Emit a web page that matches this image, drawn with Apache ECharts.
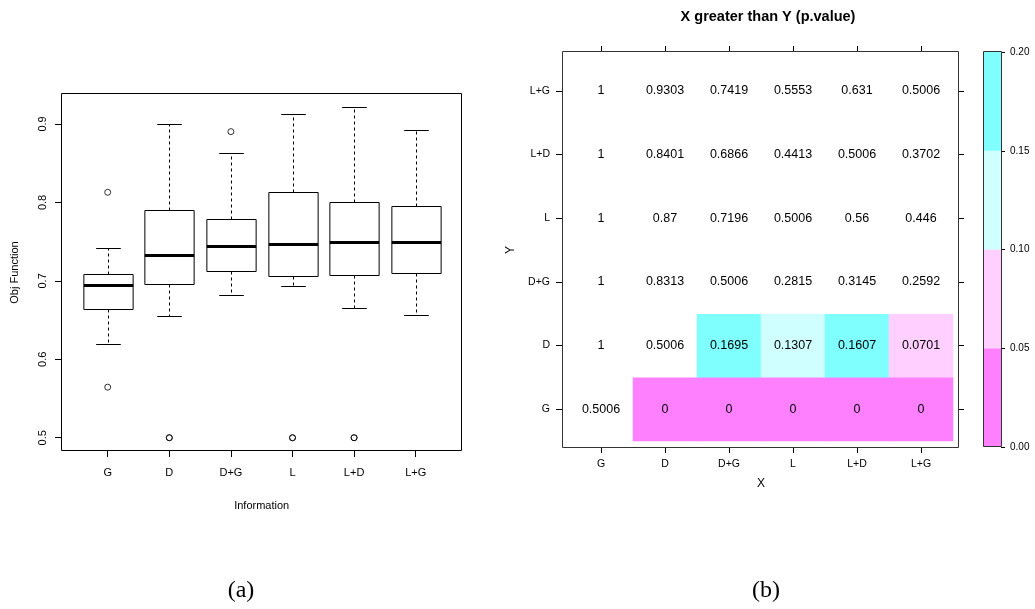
<!DOCTYPE html>
<html><head><meta charset="utf-8">
<script src="https://cdn.jsdelivr.net/npm/echarts@6/dist/echarts.min.js"></script>
<style>html,body{margin:0;padding:0;background:#fff}#c{width:1035px;height:609px}</style>
</head><body><div id="c"></div>
<script>
// ---- (a) boxplot data ----
const categories = ['G', 'D', 'D+G', 'L', 'L+D', 'L+G'];
const whiskerLow  = [0.620, 0.655, 0.6815, 0.693, 0.6657, 0.656];
const quartile1   = [0.6636, 0.6959, 0.7129, 0.7061, 0.707, 0.710];
const medians     = [0.6947, 0.7333, 0.7448, 0.7465, 0.7499, 0.7499];
const quartile3   = [0.709, 0.7907, 0.7784, 0.8129, 0.8009, 0.795];
const whiskerHigh = [0.742, 0.9004, 0.8634, 0.9124, 0.9213, 0.8928];
const outlierCategory = [0, 0, 1, 1, 2, 3, 3, 4, 4];
const outlierValue    = [0.8129, 0.5645, 0.5, 0.5, 0.8902, 0.5, 0.5, 0.5, 0.5];
const yTicksA = [0.5, 0.6, 0.7, 0.8, 0.9];

// ---- (b) heatmap data (rows = Y from bottom G to top L+G, columns = X) ----
const pRowG  = [0.5006, 0, 0, 0, 0, 0];
const pRowD  = [1, 0.5006, 0.1695, 0.1307, 0.1607, 0.0701];
const pRowDG = [1, 0.8313, 0.5006, 0.2815, 0.3145, 0.2592];
const pRowL  = [1, 0.87, 0.7196, 0.5006, 0.56, 0.446];
const pRowLD = [1, 0.8401, 0.6866, 0.4413, 0.5006, 0.3702];
const pRowLG = [1, 0.9303, 0.7419, 0.5553, 0.631, 0.5006];
const legendBreaks = [0, 0.05, 0.10, 0.15, 0.20];
const legendColors = ['#FF80FF', '#FFD0FF', '#D0FFFF', '#80FFFF'];

const FONT = 'Liberation Sans';
const rows = [pRowG, pRowD, pRowDG, pRowL, pRowLD, pRowLG];
const heatData = [];
rows.forEach((row, yi) => row.forEach((v, xi) => heatData.push([xi, yi, v])));
const boxData = categories.map((c, i) => [i, whiskerLow[i], quartile1[i], medians[i], quartile3[i], whiskerHigh[i]]);
const outData = outlierCategory.map((c, k) => [c, outlierValue[k]]);

const r5 = v => Math.round(v) + 0.5;
function renderBox(params, api) {
  const i = api.value(0);
  const band = api.size([1, 0])[0];
  const bw = band * 0.8, cw = band * 0.4;
  const p = k => api.coord([i, api.value(k)]);
  const lo = p(1), q1 = p(2), md = p(3), q3 = p(4), hi = p(5);
  const cx = r5(lo[0]);
  const solid = {stroke: '#000', lineWidth: 1};
  const dash = {stroke: '#000', lineWidth: 1, lineDash: [3, 3]};
  return {type: 'group', children: [
    {type: 'line', shape: {x1: cx, y1: r5(q3[1]), x2: cx, y2: r5(hi[1])}, style: dash},
    {type: 'line', shape: {x1: cx, y1: r5(q1[1]), x2: cx, y2: r5(lo[1])}, style: dash},
    {type: 'line', shape: {x1: cx - cw / 2, y1: r5(hi[1]), x2: cx + cw / 2, y2: r5(hi[1])}, style: solid},
    {type: 'line', shape: {x1: cx - cw / 2, y1: r5(lo[1]), x2: cx + cw / 2, y2: r5(lo[1])}, style: solid},
    {type: 'rect', shape: {x: cx - bw / 2, y: r5(q3[1]), width: bw, height: Math.round(q1[1]) - Math.round(q3[1])},
      style: {fill: '#fff', stroke: '#000', lineWidth: 1}},
    {type: 'line', shape: {x1: cx - bw / 2, y1: r5(md[1]), x2: cx + bw / 2, y2: r5(md[1])}, style: {stroke: '#000', lineWidth: 3}}
  ]};
}

const pieces = legendColors.map((c, k) => ({gte: legendBreaks[k], lt: legendBreaks[k + 1], color: c}));
pieces.push({gte: legendBreaks[legendBreaks.length - 1], color: '#ffffff'});

const blackTick = {color: '#000', width: 1};
const lineOn = {show: true, lineStyle: {color: 'rgba(0,0,0,0)', width: 1}};
const option = {
  animation: false,
  textStyle: {fontFamily: FONT, color: '#000'},
  title: [
    {text: 'X greater than Y (p.value)', left: 768, top: 9, textAlign: 'center', padding: 0,
      textStyle: {fontFamily: FONT, fontSize: 14.5, fontWeight: 'bold', color: '#000'}},
    {text: '(a)', left: 241, top: 579, textAlign: 'center', padding: 0,
      textStyle: {fontFamily: 'Liberation Serif', fontSize: 24, fontWeight: 'normal', color: '#000'}},
    {text: '(b)', left: 766, top: 579, textAlign: 'center', padding: 0,
      textStyle: {fontFamily: 'Liberation Serif', fontSize: 24, fontWeight: 'normal', color: '#000'}}
  ],
  grid: [
    {left: 76.9, top: 94, width: 369.6, height: 357},
    {left: 569, top: 59, width: 384, height: 382},
    {left: 983, top: 52, width: 18, height: 395}
  ],
  xAxis: [
    {type: 'category', gridIndex: 0, data: categories, boundaryGap: true,
      axisLine: lineOn, axisTick: {show: true, alignWithLabel: true, length: 6, lineStyle: blackTick},
      axisLabel: {margin: 16, fontSize: 11, color: '#000', interval: 0},
      name: 'Information', nameLocation: 'middle', nameGap: 49, nameTextStyle: {fontSize: 11, color: '#000'}},
    {type: 'category', gridIndex: 1, data: categories, offset: 6,
      axisLine: lineOn, axisTick: {show: true, alignWithLabel: true, length: 6, lineStyle: blackTick},
      axisLabel: {margin: 12, fontSize: 10.5, color: '#000', interval: 0},
      name: 'X', nameLocation: 'middle', nameGap: 31, nameTextStyle: {fontSize: 12, color: '#000'}},
    {type: 'category', gridIndex: 1, data: categories, position: 'top', offset: 7,
      axisLine: lineOn, axisTick: {show: true, alignWithLabel: true, length: 6, lineStyle: blackTick},
      axisLabel: {show: false}},
    {type: 'category', gridIndex: 2, data: ['bar'], show: false}
  ],
  yAxis: [
    {type: 'value', gridIndex: 0, min: 0.4831, max: 0.9382, offset: 14.9,
      axisLine: lineOn, splitLine: {show: false},
      axisTick: {show: true, length: 7, lineStyle: blackTick, customValues: yTicksA},
      axisLabel: {customValues: yTicksA, rotate: 90, margin: 14, fontSize: 11, color: '#000',
        formatter: v => Number(v).toFixed(1)},
      name: 'Obj Function', nameLocation: 'middle', nameRotate: 90, nameGap: 42,
      nameTextStyle: {fontSize: 11, color: '#000'}},
    {type: 'category', gridIndex: 1, data: categories, offset: 7,
      axisLine: lineOn, axisTick: {show: true, alignWithLabel: true, length: 6, lineStyle: blackTick},
      axisLabel: {margin: 12, fontSize: 10.5, color: '#000', interval: 0},
      name: 'Y', nameLocation: 'middle', nameRotate: 90, nameGap: 45, nameTextStyle: {fontSize: 12, color: '#000'}},
    {type: 'category', gridIndex: 1, data: categories, position: 'right', offset: 5,
      axisLine: lineOn, axisTick: {show: true, alignWithLabel: true, length: 6, lineStyle: blackTick},
      axisLabel: {show: false}},
    {type: 'value', gridIndex: 2, min: 0, max: 0.2, interval: 0.05, position: 'right',
      axisLine: lineOn, splitLine: {show: false},
      axisTick: {show: true, length: 4, lineStyle: blackTick},
      axisLabel: {margin: 9, fontSize: 10, color: '#000', formatter: v => Number(v).toFixed(2)}}
  ],
  visualMap: {type: 'piecewise', show: false, seriesIndex: 2, dimension: 2, pieces: pieces},
  series: [
    {type: 'custom', xAxisIndex: 0, yAxisIndex: 0, renderItem: renderBox, data: boxData,
      encode: {x: 0, y: [1, 2, 3, 4, 5]}, silent: true, z: 3},
    {type: 'scatter', xAxisIndex: 0, yAxisIndex: 0, data: outData, symbol: 'circle', symbolSize: 6,
      itemStyle: {color: 'rgba(0,0,0,0)', borderColor: '#000', borderWidth: 1}, silent: true, z: 4},
    {type: 'heatmap', xAxisIndex: 1, yAxisIndex: 1, data: heatData,
      itemStyle: {borderWidth: 0},
      label: {show: true, color: '#000', fontSize: 12.5, fontFamily: FONT, formatter: p => String(p.value[2])},
      emphasis: {disabled: true}, silent: true}
  ].concat(legendColors.map((c, k) => ({
      type: 'bar', xAxisIndex: 3, yAxisIndex: 3, stack: 'cb', barWidth: '100%', silent: true,
      data: [+(legendBreaks[k + 1] - legendBreaks[k]).toFixed(4)], itemStyle: {color: c}
  }))),
  graphic: [
    {type: 'rect', z: 100, silent: true, shape: {x: 61.5, y: 93.5, width: 400, height: 357},
      style: {fill: 'none', stroke: '#000', lineWidth: 1}},
    {type: 'rect', z: 100, silent: true, shape: {x: 562.5, y: 51.5, width: 396, height: 396},
      style: {fill: 'none', stroke: '#333', lineWidth: 1}},
    {type: 'rect', z: 100, silent: true, shape: {x: 983.5, y: 51.5, width: 18, height: 395},
      style: {fill: 'none', stroke: '#333', lineWidth: 1}}
  ]
};
const chart = echarts.init(document.getElementById('c'), null, {renderer: 'canvas'});
chart.setOption(option);
</script>
</body></html>
